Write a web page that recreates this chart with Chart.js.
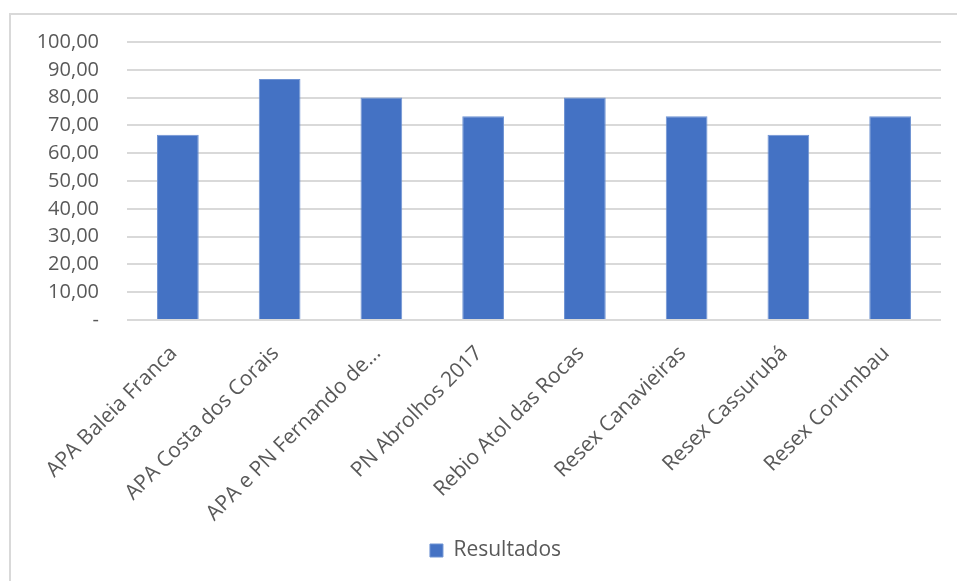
<!DOCTYPE html>
<html>
<head>
<meta charset="utf-8">
<script src="https://cdn.jsdelivr.net/npm/chart.js@4"></script>
<style>
  html, body { margin: 0; padding: 0; background: #fff; }
  #wrap { position: relative; width: 957px; height: 581px; overflow: hidden; }
  #frame { position: absolute; left: 9px; top: 13px; width: 1000px; height: 1000px;
           border-top: 2px solid #d9d9d9; border-left: 2px solid #d9d9d9; box-sizing: border-box; }
  canvas { position: absolute; left: 0; top: 0; }
</style>
</head>
<body>
<div id="wrap">
  <div id="frame"></div>
  <canvas id="c" width="957" height="581"></canvas>
</div>
<script>
const categories = [
  "APA Baleia Franca",
  "APA Costa dos Corais",
  "APA e PN Fernando de...",
  "PN Abrolhos 2017",
  "Rebio Atol das Rocas",
  "Resex Canavieiras",
  "Resex Cassurubá",
  "Resex Corumbau"
];
const resultados = [66.67, 86.67, 80.00, 73.33, 80.00, 73.33, 66.67, 73.33];
const seriesName = "Resultados";
const yMin = 0, yMax = 100, yStep = 10;

const FONT = "'Open Sans', 'DejaVu Sans', sans-serif";
const TXT = "#595959";

// Excel centres the legend in its (wider) chart frame, so nudge it right.
const legendShift = {
  id: 'legendShift',
  afterLayout(chart) {
    const lg = chart.legend;
    if (lg) { lg.left += 25; lg.right += 25; }
  }
};

new Chart(document.getElementById('c'), {
  type: 'bar',
  data: {
    labels: categories,
    datasets: [{
      label: seriesName,
      data: resultados,
      backgroundColor: '#4472c4',
      borderColor: '#6f93d3',
      borderWidth: 1,
      categoryPercentage: 1.0,
      barPercentage: 0.41
    }]
  },
  plugins: [legendShift],
  options: {
    responsive: false,
    animation: false,
    layout: { padding: { top: 42, right: 16, bottom: 10, left: 0 } },
    plugins: {
      tooltip: { enabled: false },
      legend: {
        position: 'bottom',
        labels: {
          color: TXT,
          font: { family: FONT, size: 21 },
          boxWidth: 13,
          boxHeight: 13,
          padding: 10
        }
      }
    },
    scales: {
      x: {
        grid: { display: false, drawTicks: false },
        border: { display: false },
        ticks: {
          color: TXT,
          font: { family: FONT, size: 21 },
          maxRotation: 45,
          minRotation: 45,
          autoSkip: false,
          padding: 21,
          labelOffset: -4
        },
        afterFit: (s) => { s.height = 210; }
      },
      y: {
        min: yMin,
        max: yMax,
        grid: { color: '#d9d9d9', lineWidth: 2, drawTicks: false },
        border: { display: false },
        ticks: {
          stepSize: yStep,
          color: TXT,
          font: { family: FONT, size: 20 },
          padding: 28,
          callback: (v) => v === 0 ? '-' : v.toFixed(2).replace('.', ',')
        },
        afterFit: (s) => { s.width = 127; }
      }
    }
  }
});
</script>
</body>
</html>
